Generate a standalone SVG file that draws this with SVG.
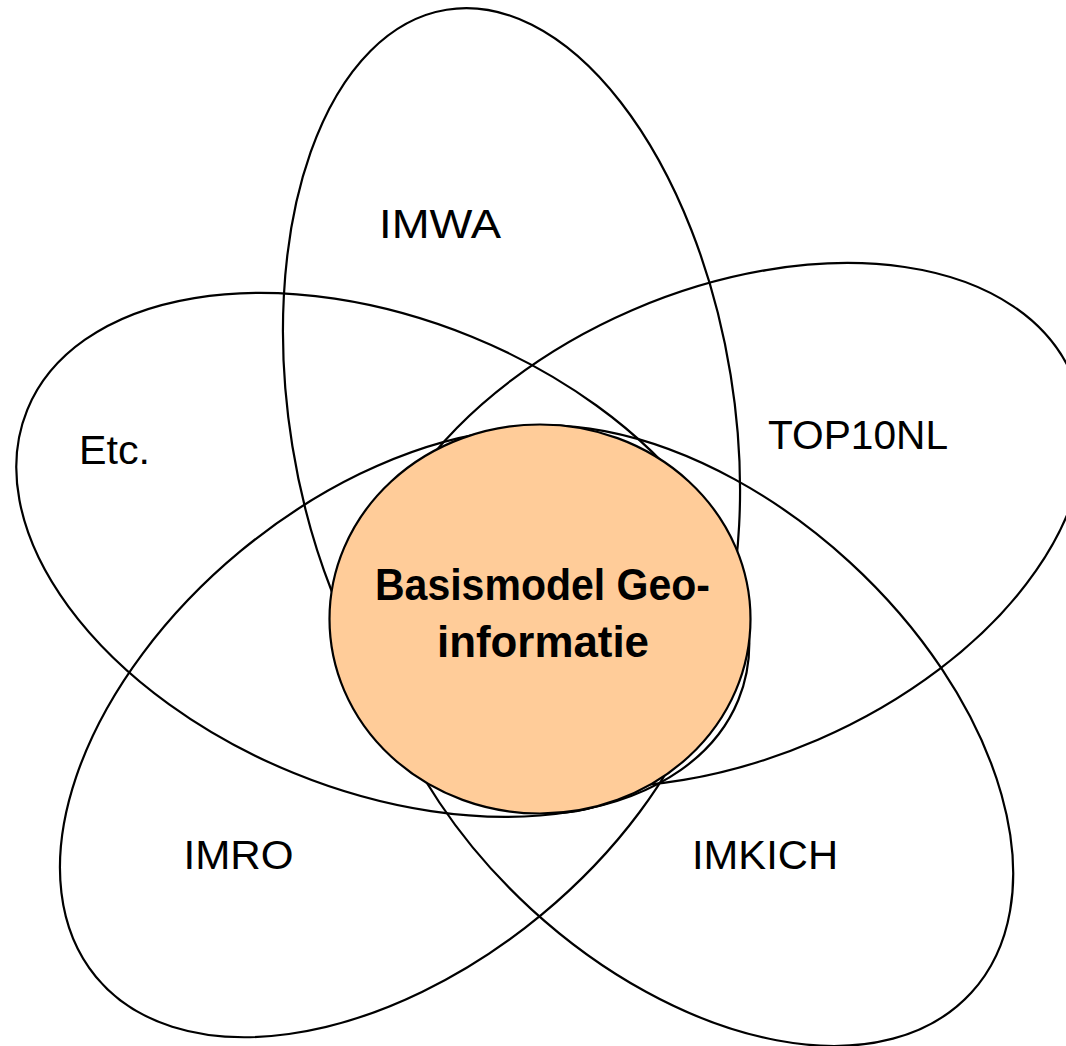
<svg xmlns="http://www.w3.org/2000/svg" width="1066" height="1046" viewBox="0 0 1066 1046">
<style>
.petal{fill:none;stroke:#000;stroke-width:2.2}
.lbl{font-family:"Liberation Sans",Arial,sans-serif;font-size:40px;fill:#000}
.core{fill:#FFCC99;stroke:#000;stroke-width:2.2}
.core-lbl{font-family:"Liberation Sans",Arial,sans-serif;font-size:44px;font-weight:bold;fill:#000}
</style>
<rect width="1066" height="1046" fill="#fff"/>
<g id="imwa">
<ellipse class="petal" cx="511.5" cy="410.5" rx="222" ry="406" transform="rotate(-9.2 511.5 410.5)"/>
<text class="lbl" x="379" y="238" textLength="122" lengthAdjust="spacingAndGlyphs">IMWA</text>
</g>
<g id="top10nl">
<ellipse class="petal" cx="725" cy="525" rx="378" ry="234" transform="rotate(-23.4 725 525)"/>
<text class="lbl" x="768" y="449" textLength="180" lengthAdjust="spacingAndGlyphs">TOP10NL</text>
</g>
<g id="imkich">
<ellipse class="petal" cx="690.6" cy="735.7" rx="380.6" ry="235.5" transform="rotate(42.5 690.6 735.7)"/>
<text class="lbl" x="692" y="869" textLength="146" lengthAdjust="spacingAndGlyphs">IMKICH</text>
</g>
<g id="imro">
<ellipse class="petal" cx="391.2" cy="732.8" rx="383" ry="236" transform="rotate(-39.6 391.2 732.8)"/>
<text class="lbl" x="183.5" y="869" textLength="110" lengthAdjust="spacingAndGlyphs">IMRO</text>
</g>
<g id="etc">
<ellipse class="petal" cx="382.8" cy="554.9" rx="384" ry="235.6" transform="rotate(22.2 382.8 554.9)"/>
<text class="lbl" x="79" y="464" textLength="71" lengthAdjust="spacingAndGlyphs">Etc.</text>
</g>
<g id="basismodel">
<ellipse class="core" cx="540" cy="619" rx="210.5" ry="194.5"/>
<text class="core-lbl" x="375" y="600" textLength="335" lengthAdjust="spacingAndGlyphs">Basismodel Geo-</text>
<text class="core-lbl" x="437" y="657" textLength="212" lengthAdjust="spacingAndGlyphs">informatie</text>
</g>
</svg>
